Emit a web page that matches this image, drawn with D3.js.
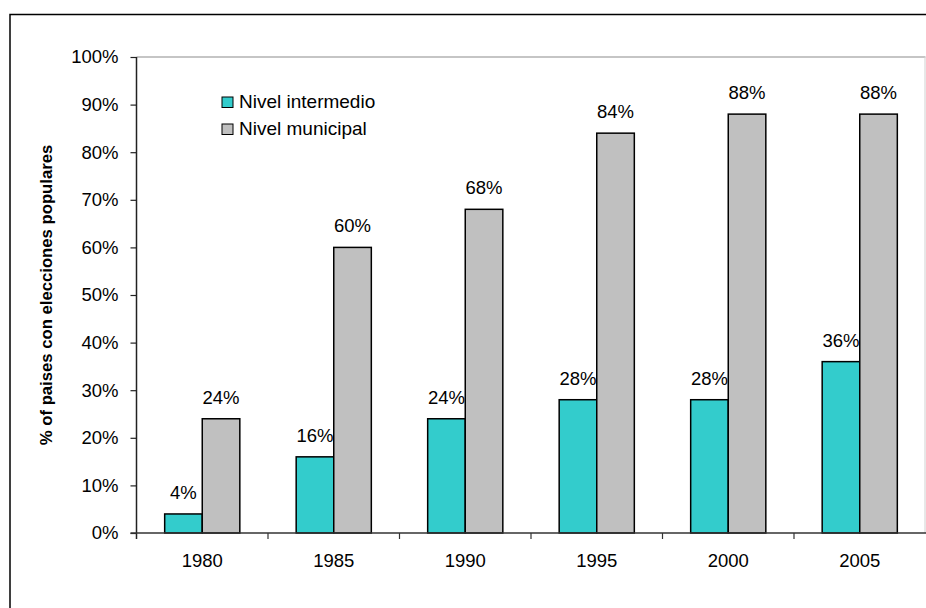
<!DOCTYPE html>
<html>
<head>
<meta charset="utf-8">
<script src="https://cdn.jsdelivr.net/npm/d3@7"></script>
<style>
  html, body { margin: 0; padding: 0; background: #fff; }
  svg { display: block; font-family: "Liberation Sans", Arial, sans-serif; }
</style>
</head>
<body>
<svg id="chart" width="926" height="608"></svg>
<script>
// Años y porcentaje de países con elecciones populares por nivel de gobierno
const years = ["1980", "1985", "1990", "1995", "2000", "2005"];
const seriesNames = ["Nivel intermedio", "Nivel municipal"];
const intermedio = [4, 16, 24, 28, 28, 36];
const municipal = [24, 60, 68, 84, 88, 88];
const yTicks = [0, 10, 20, 30, 40, 50, 60, 70, 80, 90, 100];
const colors = ["#33CCCC", "#C0C0C0"];

const svg = d3.select("#chart");
const W = 926, H = 608;
const plot = { left: 136.5, top: 57, right: 925.5, bottom: 533 };
const fs = 18.5;

// marco exterior del gráfico
svg.append("rect")
  .attr("x", 10).attr("y", 14.5)
  .attr("width", W + 20).attr("height", H + 20)
  .attr("fill", "#fff").attr("stroke", "#000").attr("stroke-width", 1.5);

const x = d3.scaleBand().domain(years).range([plot.left, plot.right]).padding(0);
const xs = d3.scaleBand().domain(seriesNames).range([0, x.bandwidth()])
  .paddingInner(0).paddingOuter(0.75);
const y = d3.scaleLinear().domain([0, 100]).range([plot.bottom, plot.top]);

// bordes del área de trazado
svg.append("line")
  .attr("x1", plot.left).attr("x2", plot.right)
  .attr("y1", plot.top).attr("y2", plot.top)
  .attr("stroke", "#8c8c8c").attr("stroke-width", 1.2);
svg.append("line")
  .attr("x1", plot.right - 0.5).attr("x2", plot.right - 0.5)
  .attr("y1", plot.top).attr("y2", plot.bottom)
  .attr("stroke", "#d0d0d0").attr("stroke-width", 1);

// barras
const rows = years.map((yr, i) => ({ year: yr, values: [intermedio[i], municipal[i]] }));
const groups = svg.append("g").selectAll("g").data(rows).join("g")
  .attr("transform", d => `translate(${x(d.year)},0)`);

groups.selectAll("rect")
  .data(d => d.values.map((v, k) => ({ key: seriesNames[k], v, k })))
  .join("rect")
  .attr("x", d => xs(d.key))
  .attr("y", d => y(d.v))
  .attr("width", xs.bandwidth())
  .attr("height", d => y(0) - y(d.v))
  .attr("fill", d => colors[d.k])
  .attr("stroke", "#000").attr("stroke-width", 1.5);

// etiquetas de valores
groups.selectAll("text")
  .data(d => d.values.map((v, k) => ({ key: seriesNames[k], v, k })))
  .join("text")
  .attr("x", d => xs(d.key) + xs.bandwidth() / 2)
  .attr("y", d => y(d.v) - 15)
  .attr("text-anchor", "middle")
  .attr("font-size", fs)
  .attr("fill", "#000")
  .text(d => d.v + "%");

// eje Y
const yAxis = d3.axisLeft(y).tickValues(yTicks).tickSize(6).tickPadding(12)
  .tickFormat(d => d + "%");
const gy = svg.append("g").attr("transform", `translate(${plot.left},0)`).call(yAxis);
gy.select(".domain").attr("stroke", "#222").attr("stroke-width", 1.5)
  .attr("d", `M0,${plot.top}V${plot.bottom + 6}`);
gy.selectAll(".tick line").attr("stroke", "#222").attr("stroke-width", 1.2);
gy.selectAll(".tick text").attr("font-size", fs).attr("fill", "#000")
  .attr("font-family", "Liberation Sans, Arial, sans-serif");

// eje X con marcas entre categorías
const gx = svg.append("g");
gx.append("line")
  .attr("x1", plot.left - 6).attr("x2", plot.right + 1)
  .attr("y1", plot.bottom).attr("y2", plot.bottom)
  .attr("stroke", "#333").attr("stroke-width", 1.5);
gx.selectAll("line.tick").data(years.slice(1)).join("line")
  .attr("class", "tick")
  .attr("x1", d => x(d)).attr("x2", d => x(d))
  .attr("y1", plot.bottom).attr("y2", plot.bottom + 6)
  .attr("stroke", "#333").attr("stroke-width", 1.2);
gx.selectAll("text").data(years).join("text")
  .attr("x", d => x(d) + x.bandwidth() / 2)
  .attr("y", plot.bottom + 34)
  .attr("text-anchor", "middle")
  .attr("font-size", fs)
  .attr("fill", "#000")
  .text(d => d);

// título del eje Y
svg.append("text")
  .attr("transform", `translate(51.5,${(plot.top + plot.bottom) / 2}) rotate(-90)`)
  .attr("text-anchor", "middle")
  .attr("font-size", 16.7)
  .attr("font-weight", "bold")
  .attr("fill", "#000")
  .text("% of paises con elecciones populares");

// leyenda
const legend = svg.append("g").attr("transform", "translate(222,97)");
const li = legend.selectAll("g").data(seriesNames).join("g")
  .attr("transform", (d, i) => `translate(0,${i * 27})`);
li.append("rect")
  .attr("width", 11).attr("height", 10.5)
  .attr("fill", (d, i) => colors[i])
  .attr("stroke", "#000").attr("stroke-width", 1);
li.append("text")
  .attr("x", 17).attr("y", 11)
  .attr("font-size", 19)
  .attr("fill", "#000")
  .text(d => d);
</script>
</body>
</html>
